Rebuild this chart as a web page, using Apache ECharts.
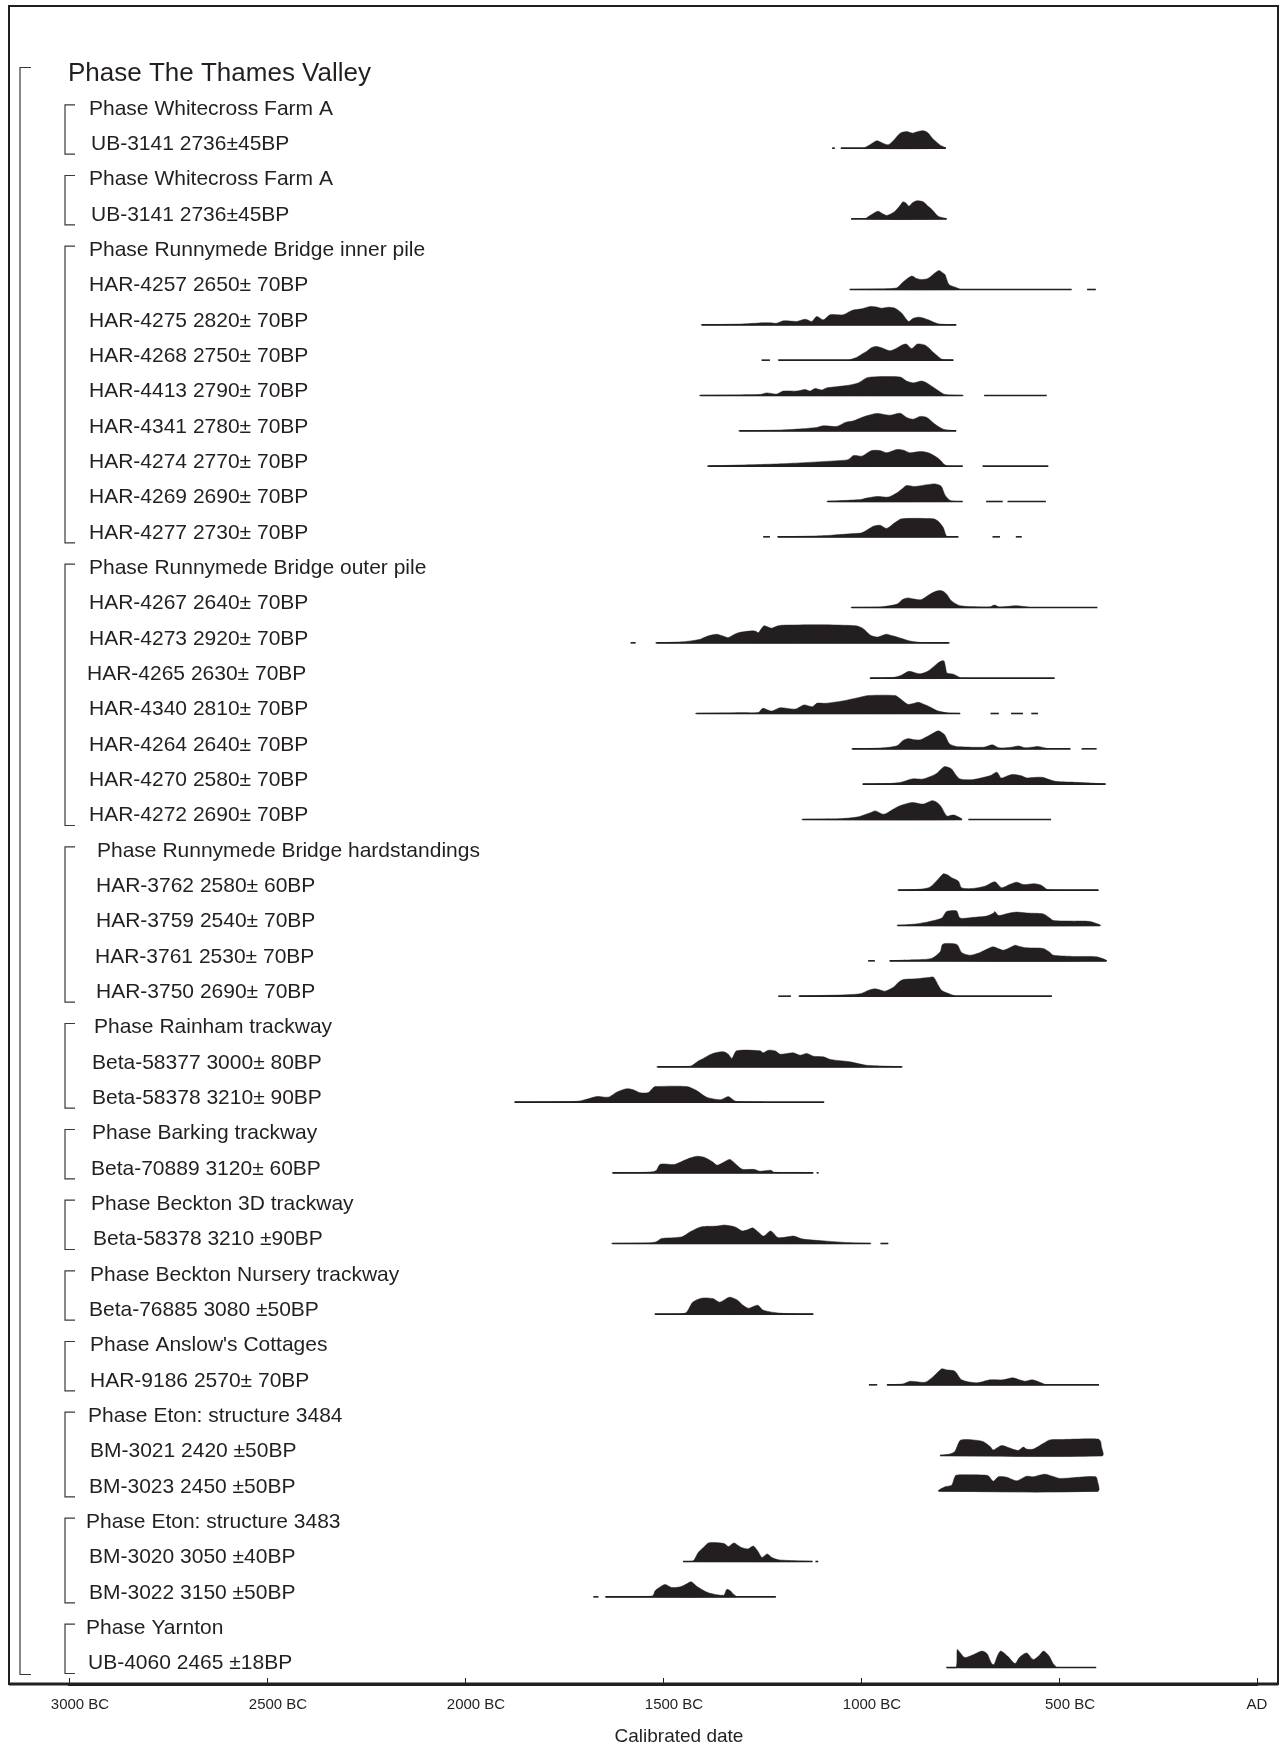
<!DOCTYPE html>
<html>
<head>
<meta charset="utf-8">
<script src="https://cdn.jsdelivr.net/npm/echarts@6/dist/echarts.min.js"></script>
<style>
  html, body { margin: 0; padding: 0; background: #fff; }
  #chart { width: 1280px; height: 1747px; }
</style>
</head>
<body>
<div id="chart"></div>
<script>
// row labels, top to bottom
var rowLabels = [
  'Phase The Thames Valley',
  'Phase Whitecross Farm A', 'UB-3141 2736\u00b145BP',
  'Phase Whitecross Farm A', 'UB-3141 2736\u00b145BP',
  'Phase Runnymede Bridge inner pile',
  'HAR-4257 2650\u00b1 70BP', 'HAR-4275 2820\u00b1 70BP', 'HAR-4268 2750\u00b1 70BP', 'HAR-4413 2790\u00b1 70BP',
  'HAR-4341 2780\u00b1 70BP', 'HAR-4274 2770\u00b1 70BP', 'HAR-4269 2690\u00b1 70BP', 'HAR-4277 2730\u00b1 70BP',
  'Phase Runnymede Bridge outer pile',
  'HAR-4267 2640\u00b1 70BP', 'HAR-4273 2920\u00b1 70BP', 'HAR-4265 2630\u00b1 70BP', 'HAR-4340 2810\u00b1 70BP',
  'HAR-4264 2640\u00b1 70BP', 'HAR-4270 2580\u00b1 70BP', 'HAR-4272 2690\u00b1 70BP',
  'Phase Runnymede Bridge hardstandings',
  'HAR-3762 2580\u00b1 60BP', 'HAR-3759 2540\u00b1 70BP', 'HAR-3761 2530\u00b1 70BP', 'HAR-3750 2690\u00b1 70BP',
  'Phase Rainham trackway',
  'Beta-58377 3000\u00b1 80BP', 'Beta-58378 3210\u00b1 90BP',
  'Phase Barking trackway',
  'Beta-70889 3120\u00b1 60BP',
  'Phase Beckton 3D trackway',
  'Beta-58378 3210 \u00b190BP',
  'Phase Beckton Nursery trackway',
  'Beta-76885 3080 \u00b150BP',
  "Phase Anslow's Cottages",
  'HAR-9186 2570\u00b1 70BP',
  'Phase Eton: structure 3484',
  'BM-3021 2420 \u00b150BP', 'BM-3023 2450 \u00b150BP',
  'Phase Eton: structure 3483',
  'BM-3020 3050 \u00b140BP', 'BM-3022 3150 \u00b150BP',
  'Phase Yarnton',
  'UB-4060 2465 \u00b118BP'
];

// phase brackets: [first row, last row]
var phaseSpans = [[1, 2], [3, 4], [5, 13], [14, 21], [22, 26], [27, 29], [30, 31],
  [32, 33], [34, 35], [36, 37], [38, 40], [41, 43], [44, 45]];

var xTicks = [-3000, -2500, -2000, -1500, -1000, -500, 0];

// distributions: [year BC, relative probability]; ranges: [from BC, to BC]
var ub3141a = [[990,0],[975,0.2],[960,0.37],[945,0.25],[931,0.17],[915,0.45],[901,0.75],[885,0.83],[870,0.75],[858,0.82],[847,0.87],[838,0.85],[830,0.75],[820,0.5],[813,0.37],[800,0.15],[786,0]];
var ub3141aR = [[1073,1066],[1051,786]];
var ub3141b = [[987,0],[970,0.25],[957,0.38],[945,0.25],[934,0.17],[914,0.38],[900,0.7],[894,0.85],[886,0.78],[879,0.63],[870,0.8],[859,0.9],[843,0.85],[832,0.65],[821,0.47],[805,0.13],[784,0]];
var ub3141bR = [[1025,784]];
var har4257 = [[1028,0],[960,0.03],[910,0.08],[895,0.35],[872,0.67],[860,0.55],[847,0.5],[831,0.55],[815,0.8],[803,0.95],[795,0.85],[788,0.75],[778,0.25],[760,0.1],[750,0]];
var har4257R = [[1028,468],[429,407]];
var har4275 = [[1402,0],[1300,0.04],[1247,0.1],[1230,0.1],[1213,0.08],[1196,0.2],[1162,0.17],[1141,0.28],[1124,0.17],[1112,0.42],[1095,0.25],[1078,0.5],[1045,0.5],[1023,0.72],[998,0.8],[977,0.92],[964,0.9],[948,0.83],[931,0.88],[914,0.83],[897,0.58],[880,0.17],[868,0.33],[851,0.38],[830,0.25],[805,0.05],[760,0]];
var har4275R = [[1402,760]];
var har4268 = [[1028,0],[1010,0.15],[998,0.3],[985,0.45],[973,0.63],[960,0.68],[945,0.6],[927,0.47],[910,0.6],[897,0.75],[885,0.8],[872,0.58],[859,0.8],[848,0.8],[838,0.75],[828,0.6],[817,0.38],[800,0.1],[792,0.02],[767,0]];
var har4268R = [[1251,1230],[1209,767]];
var har4413 = [[1406,0],[1300,0.03],[1255,0.05],[1238,0.13],[1213,0.07],[1196,0.22],[1162,0.22],[1141,0.3],[1129,0.22],[1116,0.35],[1099,0.28],[1087,0.38],[1036,0.5],[1007,0.63],[986,0.88],[969,0.93],[901,0.92],[885,0.72],[868,0.63],[847,0.72],[834,0.63],[809,0.3],[788,0.05],[743,0]];
var har4413R = [[1406,743],[689,531]];
var har4341 = [[1307,0],[1200,0.04],[1150,0.1],[1112,0.17],[1095,0.25],[1061,0.22],[1040,0.42],[1019,0.5],[1000,0.65],[986,0.75],[960,0.87],[927,0.78],[901,0.88],[885,0.67],[868,0.58],[851,0.72],[834,0.67],[813,0.33],[792,0.08],[760,0]];
var har4341R = [[1307,760]];
var har4274 = [[1386,0],[1200,0.12],[1040,0.3],[1030,0.35],[1019,0.53],[998,0.5],[985,0.65],[973,0.78],[952,0.78],[935,0.67],[910,0.83],[893,0.8],[876,0.67],[851,0.73],[830,0.67],[809,0.45],[797,0.25],[792,0.12],[784,0]];
var har4274R = [[1386,743],[693,527]];
var har4269 = [[1085,0],[1000,0.1],[986,0.17],[960,0.25],[931,0.22],[910,0.42],[895,0.65],[885,0.8],[864,0.75],[838,0.83],[813,0.88],[800,0.8],[796,0.72],[788,0.33],[775,0.05],[760,0]];
var har4269R = [[1085,743],[684,642],[630,533]];
var har4277 = [[1210,0],[1100,0.05],[1028,0.15],[998,0.2],[980,0.4],[969,0.53],[952,0.58],[935,0.42],[915,0.7],[897,0.9],[817,0.9],[805,0.78],[797,0.6],[792,0.45],[786,0.1],[784,0]];
var har4277R = [[1247,1230],[1210,754],[668,649],[609,594]];
var har4267 = [[1024,0],[950,0.03],[909,0.17],[895,0.4],[882,0.48],[865,0.42],[848,0.39],[827,0.65],[810,0.82],[799,0.85],[790,0.78],[783,0.65],[772,0.34],[750,0.09],[700,0.03],[674,0.03],[663,0.12],[652,0.03],[630,0.05],[608,0.09],[575,0]];
var har4267R = [[1024,403]];
var har4273 = [[1517,0],[1450,0.05],[1408,0.17],[1385,0.35],[1364,0.43],[1350,0.35],[1336,0.26],[1320,0.42],[1309,0.51],[1276,0.6],[1266,0.58],[1259,0.51],[1245,0.85],[1226,0.73],[1210,0.85],[1199,0.88],[1100,0.9],[1013,0.85],[996,0.73],[975,0.37],[958,0.29],[945,0.38],[936,0.43],[920,0.35],[909,0.29],[876,0.09],[850,0.02],[778,0]];
var har4273R = [[1582,1569],[1517,778]];
var har4265 = [[977,0],[920,0.03],[898,0.15],[879,0.34],[860,0.25],[849,0.22],[832,0.34],[815,0.6],[805,0.77],[795,0.87],[790,0.85],[786,0.5],[783,0.26],[767,0.2],[750,0]];
var har4265R = [[977,511]];
var har4340 = [[1416,0],[1300,0.04],[1259,0.05],[1248,0.26],[1226,0.12],[1204,0.29],[1166,0.22],[1144,0.43],[1122,0.34],[1112,0.51],[1090,0.51],[1046,0.63],[1010,0.78],[980,0.9],[914,0.9],[903,0.77],[882,0.46],[868,0.5],[855,0.56],[840,0.45],[827,0.34],[805,0.12],[780,0.03],[750,0]];
var har4340R = [[1416,750],[673,652],[621,591],[570,553]];
var har4264 = [[1022,0],[950,0.04],[909,0.15],[895,0.4],[882,0.51],[865,0.45],[849,0.46],[825,0.7],[805,0.9],[795,0.8],[788,0.68],[777,0.26],[760,0.12],[750,0.1],[690,0.08],[668,0.2],[652,0.05],[620,0.08],[602,0.14],[585,0.05],[565,0.09],[553,0.12],[530,0]];
var har4264R = [[1022,471],[443,405]];
var har4270 = [[995,0],[930,0.03],[898,0.1],[871,0.26],[843,0.26],[811,0.51],[795,0.8],[788,0.88],[772,0.77],[760,0.45],[750,0.26],[720,0.22],[701,0.29],[673,0.43],[657,0.6],[646,0.31],[632,0.4],[619,0.48],[597,0.43],[581,0.31],[560,0.34],[542,0.34],[509,0.14],[454,0.09],[383,0]];
var har4270R = [[995,383]];
var har4272 = [[1148,0],[1050,0.04],[1010,0.12],[996,0.2],[975,0.35],[964,0.43],[942,0.26],[920,0.5],[903,0.68],[871,0.85],[843,0.77],[821,0.94],[810,0.88],[799,0.68],[783,0.17],[770,0.22],[761,0.2],[745,0]];
var har4272R = [[1148,745],[729,520]];
var har3762 = [[906,0],[850,0.05],[826,0.15],[805,0.55],[792,0.82],[780,0.75],[771,0.62],[754,0.45],[746,0.12],[720,0.08],[687,0.2],[662,0.42],[645,0.12],[625,0.28],[607,0.4],[590,0.28],[575,0.3],[561,0.32],[545,0.25],[527,0.02],[401,0]];
var har3762R = [[906,401]];
var har3759 = [[908,0],[860,0.08],[826,0.2],[796,0.37],[788,0.6],[784,0.7],[765,0.75],[758,0.72],[750,0.37],[720,0.4],[683,0.47],[665,0.62],[662,0.7],[653,0.5],[630,0.6],[607,0.67],[580,0.62],[540,0.58],[525,0.4],[514,0.25],[470,0.22],[422,0.2],[396,0]];
var har3759R = [[908,396]];
var har3761 = [[927,0],[870,0.05],[822,0.12],[800,0.45],[795,0.8],[788,0.87],[758,0.82],[746,0.42],[725,0.28],[699,0.42],[680,0.6],[666,0.7],[641,0.53],[625,0.65],[611,0.78],[600,0.72],[582,0.65],[540,0.62],[525,0.45],[514,0.28],[460,0.22],[405,0.2],[380,0]];
var har3761R = [[982,965],[927,380]];
var har3750 = [[1156,0],[1050,0.06],[1002,0.12],[980,0.3],[965,0.37],[950,0.3],[939,0.25],[918,0.45],[905,0.7],[893,0.83],[859,0.87],[830,0.93],[817,0.95],[805,0.55],[796,0.28],[775,0.1],[763,0]];
var har3750R = [[1209,1177],[1156,518]];
var beta58377 = [[1514,0],[1440,0.02],[1428,0.05],[1410,0.3],[1398,0.42],[1380,0.62],[1364,0.72],[1347,0.75],[1335,0.63],[1326,0.42],[1314,0.8],[1255,0.8],[1247,0.7],[1234,0.83],[1217,0.8],[1204,0.63],[1171,0.7],[1154,0.58],[1137,0.67],[1120,0.53],[1095,0.5],[1078,0.37],[1028,0.25],[986,0.08],[897,0]];
var beta58377R = [[1514,897]];
var beta58378a = [[1874,0],[1750,0.02],[1709,0.06],[1667,0.28],[1638,0.25],[1617,0.5],[1592,0.67],[1575,0.62],[1558,0.47],[1537,0.48],[1525,0.72],[1520,0.78],[1440,0.78],[1415,0.58],[1390,0.25],[1356,0.12],[1345,0.2],[1335,0.28],[1325,0.15],[1314,0.03],[1250,0]];
var beta58378aR = [[1874,1093]];
var beta70889 = [[1627,0],[1540,0.03],[1518,0.1],[1507,0.43],[1471,0.42],[1449,0.6],[1430,0.75],[1413,0.83],[1395,0.77],[1375,0.55],[1363,0.38],[1345,0.55],[1331,0.67],[1313,0.38],[1300,0.18],[1269,0.17],[1255,0.08],[1228,0.13],[1219,0.03],[1150,0.02],[1121,0]];
var beta70889R = [[1627,1121],[1112,1107]];
var beta58378b = [[1628,0],[1540,0.03],[1518,0.08],[1503,0.25],[1453,0.33],[1430,0.6],[1404,0.83],[1363,0.87],[1345,0.92],[1318,0.83],[1300,0.63],[1285,0.7],[1273,0.78],[1258,0.55],[1246,0.37],[1228,0.63],[1210,0.3],[1190,0.32],[1170,0.37],[1147,0.22],[1093,0.13],[1030,0.04],[976,0]];
var beta58378bR = [[1628,976],[951,931]];
var beta76885 = [[1520,0],[1444,0.05],[1425,0.6],[1402,0.8],[1374,0.78],[1357,0.6],[1332,0.85],[1312,0.7],[1298,0.45],[1284,0.3],[1261,0.45],[1247,0.2],[1205,0.05],[1121,0]];
var beta76885R = [[1520,1121]];
var har9186 = [[934,0],[900,0.03],[893,0.05],[876,0.18],[838,0.13],[817,0.42],[796,0.8],[785,0.75],[763,0.68],[746,0.25],[708,0.1],[674,0.25],[641,0.25],[617,0.35],[600,0.25],[586,0.18],[567,0.25],[545,0.1],[535,0]];
var har9186R = [[980,959],[934,399]];
var bm3021 = [[800,0],[775,0.08],[763,0.2],[750,0.75],[735,0.8],[717,0.78],[692,0.7],[674,0.45],[666,0.28],[645,0.5],[624,0.37],[603,0.25],[590,0.42],[582,0.32],[565,0.32],[540,0.6],[523,0.78],[490,0.8],[455,0.82],[401,0.82],[395,0.7],[393,0.45],[390,0]];
var bm3021R = [[800,390]];
var bm3023 = [[804,0],[788,0.2],[771,0.28],[765,0.6],[760,0.78],[725,0.8],[683,0.78],[677,0.73],[666,0.48],[653,0.7],[632,0.68],[607,0.5],[582,0.73],[565,0.7],[550,0.78],[535,0.83],[515,0.72],[497,0.62],[450,0.68],[407,0.7],[403,0.5],[401,0]];
var bm3023R = [[804,401]];
var bm3020 = [[1449,0],[1424,0.03],[1411,0.45],[1398,0.7],[1385,0.93],[1346,0.9],[1335,0.75],[1321,0.93],[1310,0.8],[1302,0.7],[1285,0.63],[1272,0.77],[1260,0.5],[1250,0.2],[1237,0.38],[1225,0.2],[1206,0.08],[1123,0]];
var bm3020R = [[1449,1123],[1115,1108]];
var bm3022 = [[1645,0],[1550,0.02],[1526,0.05],[1520,0.3],[1513,0.42],[1495,0.62],[1478,0.47],[1456,0.5],[1440,0.65],[1429,0.75],[1413,0.5],[1385,0.2],[1347,0.08],[1339,0.37],[1330,0.3],[1324,0.17],[1315,0]];
var bm3022R = [[1676,1663],[1645,1215]];
var ub4060 = [[784,0],[760,0.02],[757,0.9],[750,0.75],[738,0.5],[715,0.65],[695,0.82],[682,0.7],[675,0.4],[669,0.17],[664,0.15],[655,0.6],[647,0.82],[630,0.57],[611,0.2],[600,0.5],[582,0.73],[565,0.4],[550,0.6],[539,0.82],[525,0.57],[515,0.2],[508,0.02]];
var ub4060R = [[784,406]];

// which row each distribution sits on
var distributions = [
  [2, ub3141a, ub3141aR], [4, ub3141b, ub3141bR],
  [6, har4257, har4257R], [7, har4275, har4275R], [8, har4268, har4268R], [9, har4413, har4413R],
  [10, har4341, har4341R], [11, har4274, har4274R], [12, har4269, har4269R], [13, har4277, har4277R],
  [15, har4267, har4267R], [16, har4273, har4273R], [17, har4265, har4265R], [18, har4340, har4340R],
  [19, har4264, har4264R], [20, har4270, har4270R], [21, har4272, har4272R],
  [23, har3762, har3762R], [24, har3759, har3759R], [25, har3761, har3761R], [26, har3750, har3750R],
  [28, beta58377, beta58377R], [29, beta58378a, beta58378aR],
  [31, beta70889, beta70889R], [33, beta58378b, beta58378bR], [35, beta76885, beta76885R],
  [37, har9186, har9186R], [39, bm3021, bm3021R], [40, bm3023, bm3023R],
  [42, bm3020, bm3020R], [43, bm3022, bm3022R], [45, ub4060, ub4060R]
];

// left edge of each label in px (layout only)
var labelIndent = [68, 89,91, 89,91, 89, 89,89,89,89,89,89,89,89, 89, 89,89,87,89,89,89,89,
  97, 96,96,95,96, 94, 92,92, 92, 91, 91, 93, 90, 89, 90, 90, 88, 90,89, 86, 89,89, 86, 88];

var INK = '#231f20';
var FONT = '"Liberation Sans", Arial, Helvetica, sans-serif';
var PEAK = 20;      // px for relative height 1
var BASE_OFF = 4;   // baseline below label centre

var myChart = echarts.init(document.getElementById('chart'));

var option = {
  animation: false,
  backgroundColor: '#fff',
  title: {
    text: 'Calibrated date',
    left: 674,
    top: 1722,
    textAlign: 'center',
    textStyle: { fontFamily: FONT, fontSize: 19, fontWeight: 'normal', color: INK }
  },
  graphic: [
    { type: 'rect', shape: { x: 9, y: 6, width: 1269, height: 1678 }, style: { fill: 'none', stroke: INK, lineWidth: 2 }, silent: true },
    { type: 'line', shape: { x1: 9, y1: 1684, x2: 1278, y2: 1684 }, style: { stroke: INK, lineWidth: 3 }, silent: true }
  ],
  grid: { left: 69, right: 23, top: 20, bottom: 63 },
  xAxis: {
    type: 'value',
    min: -3000,
    max: 0,
    interval: 500,
    splitLine: { show: false },
    axisLine: { show: true, onZero: false, lineStyle: { color: INK, width: 3 } },
    axisTick: { show: true, inside: true, length: 6, lineStyle: { color: INK, width: 1 } },
    axisLabel: {
      showMinLabel: true,
      showMaxLabel: true,
      margin: 13,
      color: INK,
      fontFamily: FONT,
      fontSize: 15,
      formatter: function (v) {
        if (xTicks.indexOf(v) < 0) return '';
        return v === 0 ? '{ad|AD}' : '{bc|' + (-v) + ' BC}';
      },
      rich: {
        bc: { padding: [0, 0, 0, 22], fontFamily: FONT, fontSize: 15, color: INK },
        ad: { fontFamily: FONT, fontSize: 15, color: INK }
      }
    }
  },
  yAxis: {
    type: 'value',
    inverse: true,
    min: -1.514,
    max: 45.58,
    show: false
  },
  series: [
    {
      type: 'custom',
      name: 'brackets',
      clip: false,
      silent: true,
      data: [[0, 45]].concat(phaseSpans),
      renderItem: function (params, api) {
        var outer = params.dataIndex === 0;
        var x = outer ? 20 : 65;
        var tick = outer ? 11 : 10;
        var top = api.coord([-3000, api.value(0)])[1] + (outer ? -6 : -4);
        var bottom = api.coord([-3000, api.value(1)])[1] + (outer ? 11 : 10);
        return {
          type: 'polyline',
          shape: { points: [[x + tick, top], [x, top], [x, bottom], [x + tick, bottom]] },
          style: { fill: 'none', stroke: '#3a3a3a', lineWidth: 1.2 }
        };
      }
    },
    {
      type: 'custom',
      name: 'labels',
      clip: false,
      silent: true,
      data: rowLabels.map(function (t, i) { return [i]; }),
      renderItem: function (params, api) {
        var i = params.dataIndex;
        var y = api.coord([-3000, i])[1];
        return {
          type: 'text',
          x: labelIndent[i],
          y: y,
          style: {
            text: rowLabels[i],
            fill: INK,
            fontFamily: FONT,
            fontSize: i === 0 ? 26 : 21,
            verticalAlign: 'middle',
            align: 'left'
          }
        };
      }
    },
    {
      type: 'custom',
      name: 'distributions',
      clip: false,
      silent: true,
      data: distributions.map(function (d, i) { return [i, d[0]]; }),
      renderItem: function (params, api) {
        var d = distributions[params.dataIndex];
        var row = d[0];
        var pts = d[1].map(function (p) {
          var c = api.coord([-p[0], row]);
          return [c[0], c[1] + BASE_OFF - p[1] * PEAK];
        });
        var children = d[2].map(function (s) {
          var a = api.coord([-s[0], row]);
          var b = api.coord([-s[1], row]);
          return {
            type: 'line',
            shape: { x1: a[0], y1: a[1] + BASE_OFF, x2: b[0], y2: b[1] + BASE_OFF },
            style: { stroke: INK, lineWidth: 1.6 }
          };
        });
        children.push({
          type: 'polygon',
          shape: { points: pts, smooth: 0.25 },
          style: { fill: INK, stroke: INK, lineWidth: 0.5 }
        });
        return { type: 'group', children: children };
      }
    }
  ]
};

myChart.setOption(option);
window.addEventListener('resize', function () {
  myChart.resize();
});
</script>
</body>
</html>
